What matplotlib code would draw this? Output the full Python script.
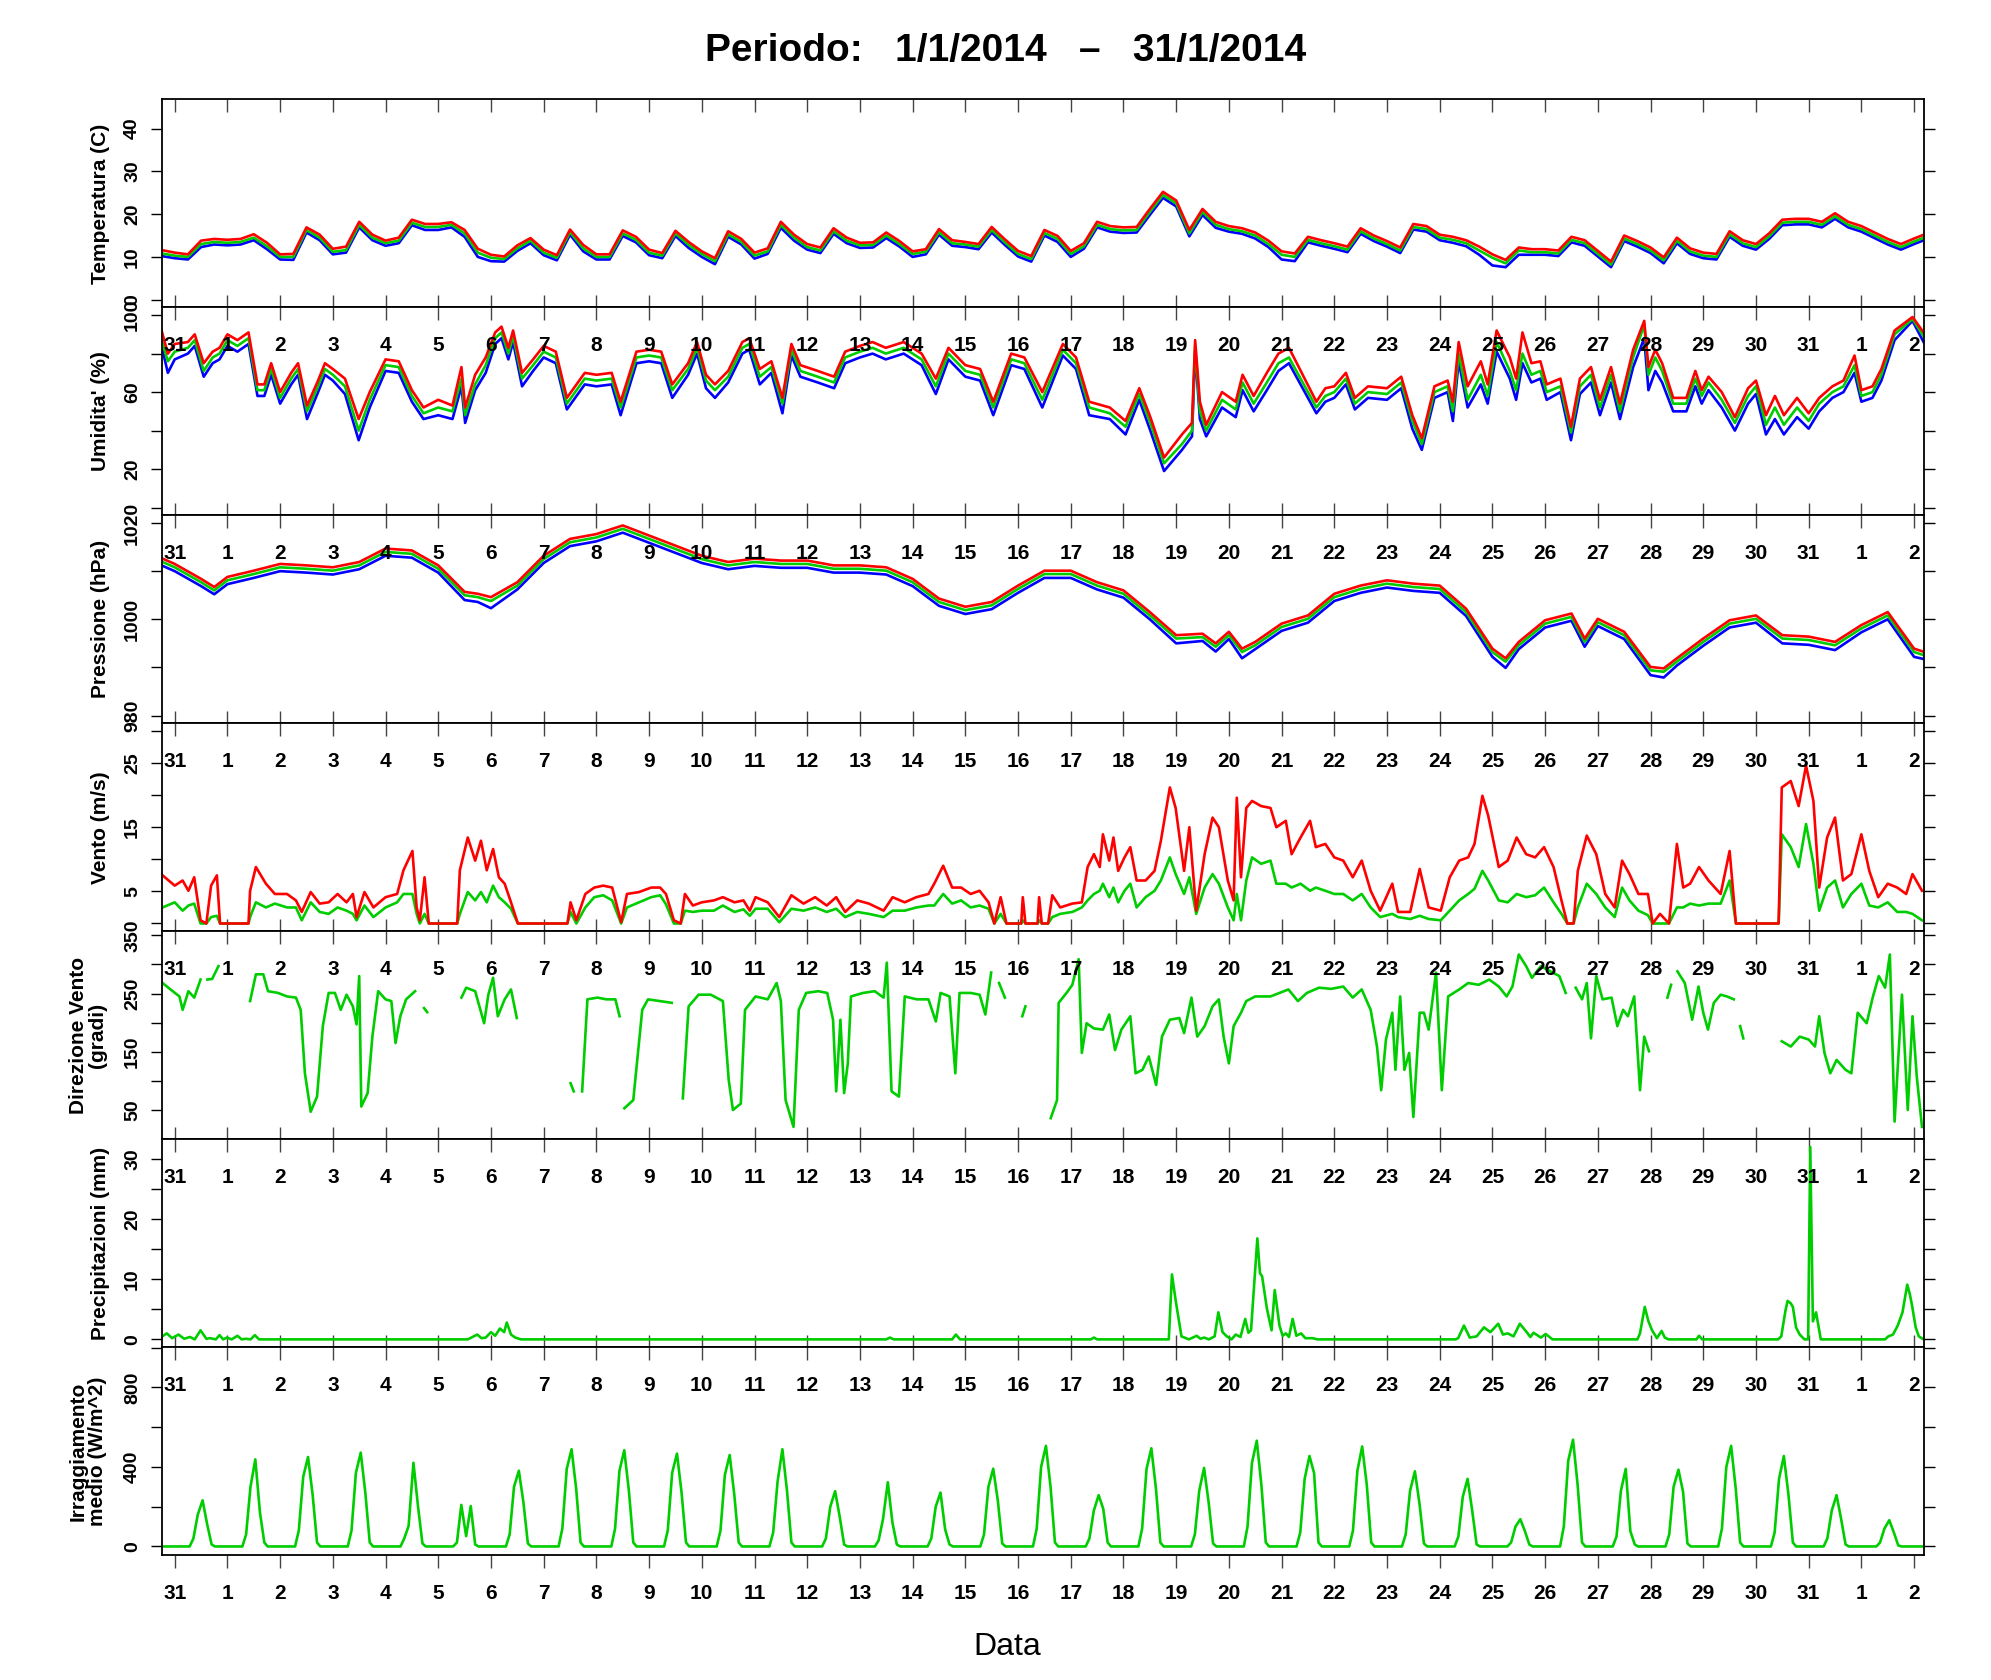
import numpy as np
import matplotlib.pyplot as plt
import matplotlib.transforms as mtransforms

plt.rcParams['font.family'] = ['Liberation Sans', 'DejaVu Sans']

RED, GREEN, BLUE = '#ff0000', '#00cd00', '#0000ff'

# asse x in giorni: 0 = 31/12/2013 ore 00
day_labels = ['31', '1', '2', '3', '4', '5', '6', '7', '8', '9', '10', '11', '12',
              '13', '14', '15', '16', '17', '18', '19', '20', '21', '22', '23', '24',
              '25', '26', '27', '28', '29', '30', '31', '1', '2']

# temperatura ogni 6 ore (da -0.25 a 33.25)
temp_g = [10.8,
          10.3, 10.0, 13.0, 13.5, 13.3, 13.5, 14.5, 12.5, 10.0, 10.0, 16.3, 14.5,
          11.2, 11.6, 17.5, 14.5, 13.2, 13.8, 18.0, 17.0, 17.0, 17.5, 15.5, 11.0,
          9.8, 9.5, 12.0, 13.8, 11.0, 9.8, 15.8, 12.0, 10.0, 10.0, 15.5, 14.0,
          11.0, 10.3, 15.5, 12.8, 10.7, 9.0, 15.3, 13.5, 10.3, 11.3, 17.5, 14.5,
          12.3, 11.5, 16.0, 13.8, 12.7, 12.8, 15.0, 13.0, 10.7, 11.2, 15.8, 13.2,
          12.9, 12.4, 16.3, 13.4, 10.7, 9.5, 15.6, 14.2, 10.7, 12.5, 17.5, 16.5,
          16.2, 16.3, 20.5, 24.5, 22.5, 15.5, 20.5, 17.5, 16.5, 16.0, 15.0, 13.0,
          10.5, 10.0, 14.0, 13.2, 12.5, 11.7, 16.0, 14.3, 13.0, 11.5, 17.0, 16.5,
          14.5, 14.0, 13.2, 11.5, 9.8, 8.5, 11.5, 11.1, 11.1, 10.8, 14.0, 13.2,
          10.7, 8.2, 14.3, 13.0, 11.5, 9.2, 13.8, 11.3, 10.3, 10.0, 15.3, 13.2,
          12.3, 14.8, 18.0, 18.2, 18.2, 17.5, 19.5, 17.5, 16.5, 15.0, 13.5, 12.3,
          13.6, 14.8]
temp_r = [11.6,
          11.0, 10.6, 13.8, 14.2, 14.0, 14.2, 15.3, 13.3, 10.6, 10.7, 16.9, 15.2,
          11.9, 12.4, 18.2, 15.2, 13.8, 14.5, 18.7, 17.7, 17.7, 18.1, 16.3, 11.9,
          10.5, 10.1, 12.7, 14.4, 11.7, 10.4, 16.4, 12.8, 10.6, 10.6, 16.2, 14.7,
          11.7, 10.9, 16.1, 13.5, 11.3, 9.7, 16.0, 14.2, 11.0, 12.0, 18.2, 15.2,
          13.0, 12.2, 16.7, 14.5, 13.3, 13.4, 15.7, 13.7, 11.3, 11.8, 16.5, 13.9,
          13.5, 13.0, 17.0, 14.1, 11.4, 10.2, 16.3, 14.9, 11.4, 13.2, 18.2, 17.2,
          16.9, 17.0, 21.2, 25.2, 23.2, 16.3, 21.2, 18.2, 17.2, 16.7, 15.7, 13.8,
          11.3, 10.8, 14.7, 13.9, 13.2, 12.4, 16.7, 15.0, 13.7, 12.2, 17.7, 17.2,
          15.2, 14.7, 13.9, 12.4, 10.6, 9.3, 12.2, 11.8, 11.8, 11.5, 14.7, 13.9,
          11.4, 8.9, 15.0, 13.7, 12.2, 9.9, 14.5, 12.0, 11.0, 10.7, 16.0, 13.9,
          13.0, 15.5, 18.7, 18.9, 18.9, 18.2, 20.2, 18.2, 17.2, 15.7, 14.2, 13.0,
          14.3, 15.5]
temp_b = [10.2,
          9.7, 9.4, 12.3, 12.9, 12.7, 12.9, 13.9, 11.8, 9.4, 9.3, 15.7, 13.9,
          10.6, 11.0, 16.9, 13.9, 12.6, 13.2, 17.4, 16.3, 16.3, 16.9, 14.7, 10.0,
          9.0, 8.9, 11.4, 13.2, 10.4, 9.2, 15.2, 11.3, 9.4, 9.4, 14.9, 13.4,
          10.4, 9.7, 14.9, 12.1, 10.0, 8.3, 14.7, 12.9, 9.6, 10.7, 16.8, 13.8,
          11.7, 10.9, 15.4, 13.2, 12.1, 12.2, 14.4, 12.4, 10.0, 10.6, 15.2, 12.6,
          12.3, 11.8, 15.7, 12.8, 10.1, 8.9, 15.0, 13.5, 10.0, 11.9, 16.9, 15.9,
          15.6, 15.7, 19.8, 23.8, 21.8, 14.8, 19.8, 16.8, 15.9, 15.4, 14.3, 12.3,
          9.4, 9.0, 13.4, 12.6, 11.9, 11.1, 15.4, 13.7, 12.4, 10.9, 16.4, 15.9,
          13.9, 13.3, 12.5, 10.5, 8.0, 7.6, 10.5, 10.5, 10.5, 10.2, 13.4, 12.6,
          10.1, 7.6, 13.7, 12.4, 10.9, 8.5, 13.2, 10.7, 9.7, 9.4, 14.7, 12.6,
          11.7, 14.2, 17.4, 17.6, 17.6, 16.9, 18.9, 16.9, 15.9, 14.4, 12.9, 11.7,
          13.0, 14.2]

# umidita'
hum_t = [-0.25, -0.13, 0, 0.25, 0.38, 0.55, 0.72, 0.85, 1.0, 1.19,
         1.4, 1.57, 1.7, 1.83, 2.0, 2.21, 2.34, 2.51, 2.72, 2.85,
         3.0, 3.23, 3.49, 3.7, 4.0, 4.25, 4.5, 4.72, 5.0, 5.27,
         5.44, 5.51, 5.7, 5.9, 6.08, 6.2, 6.33, 6.42, 6.59, 6.8,
         7.0, 7.23, 7.44, 7.78, 8.0, 8.29, 8.46, 8.76, 9.0, 9.23,
         9.44, 9.74, 9.91, 10.08, 10.25, 10.5, 10.77, 10.9, 11.1, 11.32,
         11.53, 11.7, 11.87, 12.2, 12.51, 12.72, 13.0, 13.24, 13.49, 13.83,
         14.17, 14.44, 14.68, 15.0, 15.28, 15.53, 15.87, 16.12, 16.46, 16.85,
         17.1, 17.35, 17.74, 18.04, 18.3, 18.51, 18.77, 19.11, 19.3, 19.36,
         19.45, 19.57, 19.87, 20.13, 20.26, 20.47, 20.72, 20.94, 21.14, 21.4,
         21.66, 21.83, 22.0, 22.22, 22.39, 22.64, 23.0, 23.27, 23.48, 23.66,
         23.9, 24.15, 24.25, 24.36, 24.53, 24.78, 24.91, 25.08, 25.33, 25.45,
         25.57, 25.74, 25.91, 26.03, 26.29, 26.49, 26.66, 26.87, 27.04, 27.25,
         27.42, 27.67, 27.88, 27.96, 28.09, 28.22, 28.43, 28.68, 28.85, 28.97,
         29.1, 29.35, 29.6, 29.85, 30.0, 30.19, 30.36, 30.53, 30.78, 31.0,
         31.2, 31.45, 31.66, 31.87, 32.0, 32.21, 32.38, 32.63, 32.97, 33.18]
hum_g = [87, 76, 81, 83, 87, 71, 78, 80, 87, 84,
         88, 61, 61, 72, 57, 67, 72, 50, 63, 72,
         69, 63, 40, 56, 74, 73, 58, 49, 52, 50,
         67, 48, 64, 74, 88, 91, 80, 89, 67, 74,
         81, 78, 54, 67, 66, 67, 52, 78, 79, 78,
         61, 72, 83, 66, 61, 68, 83, 85, 68, 73,
         54, 82, 71, 68, 65, 78, 81, 83, 80, 83,
         77, 63, 80, 71, 69, 52, 77, 75, 56, 82,
         75, 52, 49, 42, 59, 44, 23, 33, 40, 84,
         50, 40, 56, 51, 65, 54, 65, 75, 78, 65,
         52, 58, 60, 67, 54, 60, 59, 65, 45, 33,
         60, 63, 50, 80, 56, 69, 58, 86, 71, 61,
         80, 69, 71, 60, 63, 39, 63, 69, 52, 69,
         50, 78, 95, 69, 78, 71, 54, 54, 67, 58,
         65, 56, 44, 58, 63, 43, 52, 43, 52, 45,
         54, 60, 63, 74, 58, 60, 69, 90, 98, 89]
hum_r = [92, 80, 85, 86, 90, 75, 81, 83, 90, 87,
         91, 64, 64, 75, 60, 70, 75, 53, 66, 75,
         72, 67, 46, 60, 77, 76, 61, 52, 56, 53,
         73, 52, 69, 78, 91, 94, 83, 92, 70, 77,
         84, 81, 57, 70, 69, 70, 55, 81, 82, 81,
         64, 75, 86, 69, 64, 71, 86, 88, 72, 76,
         57, 85, 74, 71, 68, 81, 84, 86, 83, 86,
         80, 67, 83, 74, 72, 55, 80, 78, 60, 85,
         78, 55, 52, 45, 62, 47, 26, 38, 44, 87,
         55, 43, 60, 55, 69, 58, 70, 80, 83, 69,
         55, 62, 63, 70, 57, 63, 62, 68, 48, 36,
         63, 66, 55, 86, 63, 76, 64, 92, 78, 67,
         91, 75, 76, 64, 67, 42, 67, 73, 56, 73,
         54, 82, 97, 73, 82, 75, 57, 57, 71, 61,
         68, 60, 47, 62, 66, 48, 58, 48, 57, 49,
         57, 63, 66, 79, 61, 63, 72, 92, 99, 91]
hum_b = [84, 70, 77, 80, 84, 68, 75, 77, 84, 81,
         85, 58, 58, 69, 54, 64, 69, 46, 60, 69,
         66, 59, 35, 52, 71, 70, 55, 46, 48, 46,
         63, 44, 61, 70, 85, 88, 77, 86, 63, 71,
         78, 75, 51, 64, 63, 64, 48, 75, 76, 75,
         57, 69, 80, 62, 57, 65, 80, 82, 64, 70,
         49, 79, 68, 65, 62, 75, 78, 80, 77, 80,
         74, 59, 77, 68, 66, 48, 74, 72, 52, 79,
         72, 48, 46, 38, 56, 40, 19, 30, 37, 81,
         46, 37, 52, 47, 61, 50, 61, 71, 75, 62,
         49, 55, 57, 64, 51, 57, 56, 62, 41, 30,
         57, 60, 45, 76, 52, 64, 54, 81, 67, 56,
         75, 65, 67, 56, 60, 35, 59, 65, 48, 65,
         46, 73, 88, 61, 71, 65, 50, 50, 63, 54,
         61, 52, 40, 54, 59, 38, 46, 38, 47, 41,
         50, 57, 60, 70, 55, 57, 66, 87, 97, 86]

# pressione
press_t = [-0.25, 0, 0.5, 0.75, 1, 1.5, 2, 2.5, 3, 3.5,
           4, 4.5, 5, 5.5, 5.75, 6, 6.5, 7, 7.5, 8,
           8.5, 9, 9.5, 10, 10.5, 11, 11.5, 12, 12.5, 13,
           13.5, 14, 14.5, 15, 15.5, 16, 16.5, 17, 17.5, 18,
           18.5, 19, 19.5, 19.75, 20, 20.25, 20.5, 21, 21.5, 22,
           22.5, 23, 23.5, 24, 24.5, 25, 25.25, 25.5, 26, 26.5,
           26.75, 27, 27.5, 28, 28.25, 28.5, 29, 29.5, 30, 30.5,
           31, 31.5, 32, 32.5, 33, 33.2]
press_g = [1012, 1010.8, 1007.7, 1006, 1008.1, 1009.4, 1010.8, 1010.5, 1010.1, 1011.2,
           1014, 1013.6, 1010.5, 1005, 1004.6, 1003.8, 1007, 1012.5, 1016, 1017,
           1018.8, 1016.7, 1014.6, 1012.5, 1011.2, 1011.9, 1011.5, 1011.5, 1010.5, 1010.5,
           1010.1, 1007.7, 1003.6, 1001.9, 1002.9, 1006.3, 1009.4, 1009.4, 1007, 1005.3,
           1000.8, 996, 996.3, 994.3, 996.7, 993.2, 994.6, 998.4, 1000.1, 1004.6,
           1006.3, 1007.4, 1006.7, 1006.3, 1001.5, 993.2, 991.2, 994.6, 999.1, 1000.5,
           995.3, 999.4, 996.7, 989.4, 989.1, 991.2, 995.3, 999.1, 1000.1, 996,
           995.7, 994.6, 998.1, 1000.8, 993.2, 992.5]
press_r = [1012.7, 1011.5, 1008.4, 1006.7, 1008.8, 1010.1, 1011.5, 1011.2, 1010.8, 1011.9,
           1014.7, 1014.3, 1011.2, 1005.7, 1005.3, 1004.6, 1007.7, 1013.2, 1016.7, 1017.7,
           1019.5, 1017.4, 1015.3, 1013.2, 1011.9, 1012.6, 1012.2, 1012.2, 1011.2, 1011.2,
           1010.8, 1008.4, 1004.3, 1002.6, 1003.6, 1007.0, 1010.1, 1010.1, 1007.7, 1006.0,
           1001.5, 996.7, 997.0, 995.0, 997.4, 993.9, 995.3, 999.1, 1000.8, 1005.3,
           1007.0, 1008.1, 1007.4, 1007.0, 1002.2, 993.9, 991.9, 995.3, 999.8, 1001.2,
           996.0, 1000.1, 997.4, 990.1, 989.8, 991.9, 996.0, 999.8, 1000.8, 996.7,
           996.4, 995.3, 998.8, 1001.5, 993.9, 993.2]
press_b = [1011.2, 1010.0, 1006.9, 1005.2, 1007.3, 1008.6, 1010.0, 1009.7, 1009.3, 1010.4,
           1013.2, 1012.8, 1009.7, 1004.0, 1003.6, 1002.3, 1006.2, 1011.7, 1015.2, 1016.2,
           1018.0, 1015.9, 1013.8, 1011.7, 1010.4, 1011.1, 1010.7, 1010.7, 1009.7, 1009.7,
           1009.3, 1006.9, 1002.8, 1001.1, 1002.1, 1005.5, 1008.6, 1008.6, 1006.2, 1004.5,
           1000.0, 995.0, 995.5, 993.3, 995.9, 991.9, 993.8, 997.6, 999.3, 1003.8,
           1005.5, 1006.6, 1005.9, 1005.5, 1000.7, 992.2, 989.9, 993.8, 998.3, 999.7,
           994.3, 998.6, 995.9, 988.4, 987.9, 990.4, 994.5, 998.3, 999.3, 995.0,
           994.7, 993.6, 997.3, 1000.0, 992.2, 991.7]

# vento: raffica (rosso) e media (verde)
wind_t = [-0.23, 0.0, 0.15, 0.26, 0.37, 0.49, 0.6, 0.69, 0.8, 0.86,
          1.4, 1.43, 1.54, 1.73, 1.9, 2.13, 2.3, 2.41, 2.58, 2.75,
          2.92, 3.09, 3.26, 3.38, 3.45, 3.6, 3.77, 4.0, 4.22, 4.34,
          4.51, 4.59, 4.65, 4.74, 4.82, 5.36, 5.41, 5.56, 5.7, 5.81,
          5.92, 6.04, 6.15, 6.26, 6.38, 6.51, 7.45, 7.51, 7.62, 7.79,
          7.96, 8.13, 8.3, 8.47, 8.58, 8.81, 9.04, 9.21, 9.32, 9.47,
          9.6, 9.68, 9.83, 10.0, 10.23, 10.4, 10.62, 10.79, 10.91, 11.02,
          11.25, 11.47, 11.7, 11.93, 12.15, 12.37, 12.55, 12.72, 12.95, 13.17,
          13.45, 13.62, 13.85, 14.07, 14.3, 14.41, 14.58, 14.75, 14.92, 15.1,
          15.27, 15.44, 15.55, 15.67, 15.78, 16.06, 16.09, 16.14, 16.37, 16.4,
          16.45, 16.57, 16.65, 16.8, 17.03, 17.21, 17.32, 17.44, 17.55, 17.61,
          17.73, 17.81, 17.9, 18.02, 18.13, 18.25, 18.42, 18.59, 18.71, 18.88,
          18.99, 19.15, 19.25, 19.38, 19.54, 19.69, 19.81, 19.98, 20.09, 20.15,
          20.23, 20.33, 20.44, 20.61, 20.79, 20.9, 21.08, 21.19, 21.36, 21.54,
          21.65, 21.83, 22.0, 22.17, 22.35, 22.52, 22.69, 22.87, 23.1, 23.21,
          23.44, 23.62, 23.79, 24.02, 24.19, 24.37, 24.54, 24.66, 24.81, 24.92,
          25.12, 25.29, 25.46, 25.64, 25.81, 25.98, 26.16, 26.31, 26.42, 26.54,
          26.62, 26.79, 26.97, 27.14, 27.32, 27.46, 27.6, 27.77, 27.95, 28.04,
          28.18, 28.35, 28.5, 28.62, 28.75, 28.92, 29.1, 29.33, 29.5, 29.62,
          30.43, 30.49, 30.66, 30.81, 30.95, 31.09, 31.2, 31.35, 31.5, 31.65,
          31.81, 32.0, 32.15, 32.32, 32.5, 32.68, 32.85, 32.97, 33.15]
wind_r = [7.5, 5.9, 6.7, 5.1, 7.2, 0.5, 0, 5.9, 7.5, 0,
          0, 5.1, 8.8, 6.2, 4.6, 4.6, 3.6, 1.8, 4.9, 3.1,
          3.3, 4.6, 3.3, 4.6, 1.0, 4.9, 2.5, 4.1, 4.6, 8.3,
          11.3, 2.5, 0.5, 7.2, 0, 0, 8.3, 13.4, 9.8, 12.9,
          8.3, 11.6, 7.2, 6.2, 3.3, 0, 0, 3.3, 0.5, 4.6,
          5.6, 5.9, 5.6, 0.2, 4.6, 4.9, 5.6, 5.6, 4.6, 0.5,
          0, 4.6, 2.8, 3.3, 3.6, 4.1, 3.3, 3.6, 2.0, 4.1,
          3.3, 1.0, 4.4, 3.1, 4.1, 2.8, 4.1, 1.8, 3.6, 3.1,
          2.0, 4.1, 3.3, 4.1, 4.6, 6.2, 9.0, 5.6, 5.6, 4.6,
          5.1, 3.3, 0, 4.1, 0, 0, 4.1, 0, 0, 4.1,
          0, 0, 4.4, 2.5, 3.1, 3.3, 8.8, 10.8, 8.8, 13.9,
          9.8, 13.4, 8.2, 10.3, 11.9, 6.7, 6.7, 8.2, 12.9, 21.2,
          18.0, 8.2, 15.0, 2.0, 10.8, 16.5, 15.0, 6.7, 3.6, 19.6,
          7.2, 18.0, 19.1, 18.3, 18.0, 15.0, 16.0, 10.8, 13.4, 16.0,
          11.9, 12.4, 10.3, 9.8, 7.2, 9.8, 5.1, 2.0, 6.2, 1.8,
          1.8, 8.5, 2.5, 2.0, 7.2, 9.8, 10.3, 12.4, 19.9, 16.8,
          8.8, 9.8, 13.4, 10.8, 10.3, 11.9, 8.8, 3.6, 0, 0,
          8.2, 13.7, 10.8, 4.6, 2.5, 9.8, 7.7, 4.6, 4.6, 0,
          1.5, 0, 12.4, 5.6, 6.2, 8.8, 6.7, 4.6, 11.3, 0,
          0, 21.2, 22.2, 18.3, 24.6, 19.1, 5.6, 13.4, 16.5, 6.7,
          7.7, 13.9, 8.2, 4.1, 6.2, 5.6, 4.6, 7.7, 5.1]
wind_g = [2.5, 3.3, 2.0, 2.8, 3.1, 0, 0, 1.0, 1.2, 0,
          0, 1.0, 3.3, 2.5, 3.1, 2.5, 2.5, 0.5, 3.3, 1.8,
          1.5, 2.5, 2.0, 1.5, 0.5, 2.8, 1.0, 2.5, 3.3, 4.6,
          4.6, 1.5, 0, 1.5, 0, 0, 1.5, 4.9, 3.6, 4.9,
          3.3, 5.9, 4.1, 3.3, 2.3, 0, 0, 1.8, 0, 2.5,
          4.1, 4.4, 3.6, 0, 2.5, 3.3, 4.1, 4.4, 3.0, 0,
          0, 2.0, 1.8, 2.0, 2.0, 2.8, 1.8, 2.2, 1.2, 2.3,
          2.3, 0.2, 2.3, 2.0, 2.5, 1.8, 2.3, 1.0, 1.8, 1.5,
          1.0, 2.0, 2.0, 2.5, 2.8, 2.8, 4.6, 3.1, 3.6, 2.5,
          2.8, 2.3, 0, 1.5, 0, 0, 0.5, 0, 0, 0.5,
          0, 0, 1.0, 1.5, 1.8, 2.5, 3.6, 4.6, 5.1, 6.2,
          4.1, 5.6, 3.3, 5.1, 6.2, 2.5, 4.1, 5.1, 6.7, 10.3,
          7.7, 4.6, 7.2, 1.5, 5.6, 7.7, 6.2, 2.5, 0.5, 4.6,
          0.5, 6.7, 10.3, 9.3, 9.8, 6.2, 6.2, 5.6, 6.2, 5.1,
          5.6, 5.1, 4.6, 4.6, 3.6, 4.6, 2.5, 1.0, 1.5, 1.0,
          0.7, 1.2, 0.7, 0.5, 2.0, 3.6, 4.6, 5.4, 8.2, 6.7,
          3.6, 3.3, 4.6, 4.1, 4.4, 5.6, 3.3, 1.5, 0, 0,
          2.5, 6.2, 4.6, 2.5, 1.0, 5.6, 3.6, 2.0, 1.3, 0,
          0, 0, 2.5, 2.5, 3.1, 2.8, 3.1, 3.1, 6.7, 0,
          0, 13.9, 11.9, 8.8, 15.5, 9.3, 2.0, 5.6, 6.7, 2.5,
          4.6, 6.2, 2.8, 2.5, 3.3, 1.8, 1.8, 1.5, 0.5]

# direzione vento (nan = dato mancante)
nan = np.nan
dir_t = [-0.23, -0.08, 0.09, 0.15, 0.26, 0.37, 0.49, 0.55, 0.62, 0.71, 0.83, 1.0,
         1.43, 1.54, 1.68, 1.77, 1.96, 2.13, 2.3, 2.39, 2.47, 2.58, 2.7, 2.81, 2.92,
         3.04, 3.15, 3.26, 3.38, 3.45, 3.5, 3.54, 3.66, 3.75, 3.86, 4.0, 4.11, 4.19,
         4.28, 4.39, 4.56, 4.65, 4.73, 4.79, 5.0, 5.44, 5.53, 5.7, 5.87, 5.95, 6.04,
         6.13, 6.26, 6.38, 6.49, 7.0, 7.51, 7.57, 7.65, 7.73, 7.83, 8.02, 8.19, 8.36,
         8.44, 8.48, 8.53, 8.7, 8.87, 8.98, 9.21, 9.43, 9.5, 9.64, 9.75, 9.94, 10.17,
         10.4, 10.51, 10.59, 10.74, 10.82, 11.02, 11.25, 11.42, 11.5, 11.59, 11.74,
         11.84, 11.98, 12.21, 12.38, 12.49, 12.55, 12.63, 12.7, 12.77, 12.83, 13.06,
         13.28, 13.45, 13.51, 13.6, 13.74, 13.85, 14.08, 14.3, 14.44, 14.53, 14.7,
         14.81, 14.89, 15.1, 15.27, 15.38, 15.49, 15.55, 15.64, 15.75, 15.9, 16.08,
         16.14, 16.4, 16.62, 16.74, 16.77, 16.92, 17.03, 17.15, 17.21, 17.3, 17.44,
         17.61, 17.73, 17.84, 17.96, 18.13, 18.23, 18.36, 18.48, 18.62, 18.73, 18.88,
         19.06, 19.15, 19.29, 19.4, 19.54, 19.69, 19.81, 19.9, 20.0, 20.09, 20.23,
         20.33, 20.5, 20.79, 21.13, 21.31, 21.48, 21.71, 21.94, 22.17, 22.35, 22.52,
         22.69, 22.81, 22.89, 22.98, 23.1, 23.16, 23.25, 23.33, 23.42, 23.5, 23.62,
         23.7, 23.79, 23.93, 24.04, 24.16, 24.37, 24.54, 24.74, 24.94, 25.12, 25.27,
         25.38, 25.5, 25.64, 25.75, 25.92, 26.1, 26.27, 26.39, 26.5, 26.58, 26.7,
         26.79, 26.87, 26.97, 27.09, 27.26, 27.37, 27.48, 27.57, 27.69, 27.8, 27.88,
         27.97, 28.1, 28.32, 28.39, 28.45, 28.51, 28.65, 28.79, 28.91, 29.0, 29.09,
         29.2, 29.33, 29.45, 29.58, 29.65, 29.7, 29.76, 30.0, 30.49, 30.66, 30.83,
         31.0, 31.12, 31.2, 31.3, 31.41, 31.53, 31.7, 31.81, 31.93, 32.1, 32.22,
         32.33, 32.45, 32.54, 32.63, 32.77, 32.88, 32.97, 33.05, 33.15]
dir_v = [268, 257, 245, 222, 254, 243, 274, nan, 274, 275, 297, nan,
         237, 283, 283, 254, 251, 245, 243, 222, 113, 47, 73, 194, 251,
         251, 222, 248, 228, 197, 280, 56, 79, 176, 254, 240, 237, 165,
         211, 240, 254, nan, 225, 218, nan, 243, 260, 254, 199, 248, 277,
         211, 240, 257, 208, nan, 96, 82, nan, 82, 240, 243, 240, 240,
         211, nan, 53, 67, 222, 240, 237, 234, nan, 70, 228, 248, 248,
         237, 102, 50, 61, 222, 245, 240, 268, 237, 67, 21,
         222, 251, 254, 251, 205, 82, 205, 79, 130, 245, 251,
         254, 243, 303, 82, 73, 245, 240, 240, 202, 251, 245,
         113, 251, 251, 248, 214, 286, nan, 268, 243, nan, 211,
         228, nan, 36, 67, 234, 251, 265, 309, 148, 199, 190,
         188, 214, 153, 188, 211, 113, 119, 142, 93, 176, 205,
         208, 182, 243, 176, 194, 228, 240, 176, 130, 194, 217,
         237, 245, 245, 257, 237, 251, 260, 258, 262, 243, 257,
         222, 159, 84, 171, 217, 119, 245, 119, 148, 38, 217,
         217, 188, 286, 84, 245, 257, 268, 265, 274, 262, 245,
         262, 317, 297, 277, 297, 288, 280, 251, nan, 260, 240,
         268, 173, 280, 240, 243, 194, 222, 211, 245, 84, 176,
         151, nan, 243, 265, nan, 288, 268, 205, 262, 217, 188,
         234, 248, 245, 240, nan, 194, 173, nan, 168, 159, 176,
         171, 159, 211, 148, 113, 136, 119, 113, 217, 199, 245,
         280, 260, 317, 30, 248, 50, 211, 108, 21]

# precipitazioni
prec_t = [-0.27, -0.15, -0.05, 0.07, 0.18, 0.29, 0.38, 0.49, 0.6, 0.67, 0.78, 0.85,
          0.92, 0.99, 1.08, 1.19, 1.27, 1.35, 1.44, 1.52, 1.6,
          5.56, 5.74, 5.82, 5.9, 6.0, 6.08, 6.17, 6.25, 6.3, 6.38, 6.46, 6.57,
          13.5, 13.57, 13.64, 14.75, 14.82, 14.9, 17.38, 17.44, 17.5,
          18.86, 18.92, 18.99, 19.1, 19.24, 19.39, 19.46, 19.53, 19.62, 19.73, 19.8,
          19.88, 19.96, 20.05, 20.13, 20.22, 20.31, 20.37, 20.42, 20.54, 20.59, 20.63,
          20.72, 20.81, 20.87, 20.96, 21.02, 21.08, 21.14, 21.21, 21.28, 21.37, 21.45,
          21.59, 21.68,
          24.3, 24.35, 24.46, 24.57, 24.7, 24.84, 24.96, 25.11, 25.2, 25.29, 25.4,
          25.52, 25.65, 25.72, 25.78, 25.92, 26.01, 26.14,
          27.75, 27.8, 27.89, 27.96, 28.03, 28.12, 28.21, 28.27, 28.34,
          28.87, 28.92, 28.98,
          30.42, 30.48, 30.56, 30.6, 30.66, 30.7, 30.76, 30.83, 30.92, 30.99, 31.03,
          31.08, 31.14, 31.23,
          32.45, 32.51, 32.6, 32.69, 32.78, 32.87, 32.92, 32.96, 33.03, 33.09, 33.18]
prec_v = [0.3, 1.0, 0.2, 0.8, 0.1, 0.4, 0.0, 1.5, 0.1, 0.2, 0.0, 0.7,
          0.0, 0.3, 0.0, 0.6, 0.0, 0.1, 0.0, 0.7, 0.0,
          0.0, 0.8, 0.2, 0.3, 1.2, 0.6, 1.8, 1.2, 2.8, 0.8, 0.3, 0.0,
          0.0, 0.3, 0.0, 0.0, 0.8, 0.0, 0.0, 0.3, 0.0,
          0.0, 10.8, 6.5, 0.5, 0.0, 0.6, 0.1, 0.3, 0.0, 0.5, 4.5,
          1.2, 0.5, 0.0, 0.8, 0.4, 3.4, 1.1, 1.5, 16.8, 11.0, 10.5,
          5.2, 1.5, 8.2, 2.3, 0.6, 1.0, 0.4, 3.4, 0.6, 1.0, 0.2,
          0.2, 0.0,
          0.0, 0.2, 2.3, 0.3, 0.5, 2.0, 1.2, 2.6, 0.8, 1.0, 0.5,
          2.6, 1.2, 0.4, 1.1, 0.3, 0.9, 0.0,
          0.0, 1.0, 5.4, 3.0, 1.5, 0.2, 1.4, 0.3, 0.0,
          0.0, 0.6, 0.0,
          0.0, 0.5, 4.8, 6.4, 6.0, 5.4, 2.0, 0.8, 0.0, 0.0, 32.0,
          3.0, 4.5, 0.0,
          0.0, 0.5, 0.8, 2.3, 4.5, 9.1, 7.5, 5.7, 2.0, 0.5, 0.0]

# irraggiamento: valori diurni alle ore 8.5, 10.5, 12.7, 14.8, 16.8 per ogni giorno (31/12 .. 1/2)
irr_hours = [8.5, 10.5, 12.7, 14.8, 16.8]
irr_vals = [[40, 160, 232, 110, 10], [60, 300, 438, 172, 20], [80, 350, 450, 260, 20],
            [80, 370, 472, 270, 20], [40, 103, 421, 200, 15], [20, 209, 52, 203, 10],
            [60, 300, 381, 220, 15], [90, 390, 489, 290, 20], [90, 380, 484, 280, 20],
            [80, 370, 467, 270, 20], [80, 360, 460, 260, 20], [70, 326, 489, 280, 20],
            [40, 200, 278, 150, 10], [30, 137, 323, 120, 10], [40, 200, 271, 86, 10],
            [60, 300, 391, 230, 15], [90, 400, 506, 300, 20], [40, 180, 258, 189, 20],
            [90, 390, 494, 290, 20], [60, 280, 395, 220, 15], [100, 420, 532, 310, 20],
            [70, 340, 455, 369, 20], [80, 380, 503, 309, 20], [60, 280, 378, 215, 15],
            [50, 250, 340, 180, 10], [20, 100, 137, 77, 10], [100, 430, 537, 310, 20],
            [50, 280, 390, 77, 10], [60, 300, 386, 275, 15], [90, 400, 506, 290, 20],
            [70, 340, 455, 260, 20], [40, 180, 258, 137, 10], [20, 90, 132, 70, 5]]

irr_t, irr_v = [-0.25], [0.0]
for d, vals in enumerate(irr_vals):
    irr_t += [d + 6.8 / 24] + [d + h / 24 for h in irr_hours] + [d + 18.3 / 24]
    irr_v += [0.0] + vals + [0.0]
irr_t.append(33.2)
irr_v.append(0.0)

temp_t = np.arange(len(temp_g)) * 0.25 - 0.25

# ---------------------------------------------------------------------------
fig, axes = plt.subplots(7, 1, figsize=(19.91, 16.8), dpi=100, sharex=True,
                         gridspec_kw={'hspace': 0})
fig.subplots_adjust(left=0.0814, right=0.9664, top=0.9408, bottom=0.0744)

LW = 1.9
ax = axes[0]
ax.plot(temp_t, temp_b, color=BLUE, lw=LW)
ax.plot(temp_t, temp_g, color=GREEN, lw=LW)
ax.plot(temp_t, temp_r, color=RED, lw=LW)

ax = axes[1]
ax.plot(hum_t, hum_b, color=BLUE, lw=LW)
ax.plot(hum_t, hum_g, color=GREEN, lw=LW)
ax.plot(hum_t, hum_r, color=RED, lw=LW)

ax = axes[2]
ax.plot(press_t, press_b, color=BLUE, lw=LW)
ax.plot(press_t, press_g, color=GREEN, lw=LW)
ax.plot(press_t, press_r, color=RED, lw=LW)

ax = axes[3]
ax.plot(wind_t, wind_g, color=GREEN, lw=LW)
ax.plot(wind_t, wind_r, color=RED, lw=LW)

axes[4].plot(dir_t, dir_v, color=GREEN, lw=LW)
axes[5].plot(prec_t, prec_v, color=GREEN, lw=LW)
axes[6].plot(irr_t, irr_v, color=GREEN, lw=LW)

ylabels = ['Temperatura (C)', "Umidita' (%)", 'Pressione (hPa)', 'Vento (m/s)',
           'Direzione Vento\n(gradi)', 'Precipitazioni (mm)',
           'Irraggiamento\nmedio (W/m^2)']
ylims = [(-1.8, 46.8), (-4, 104), (978.4, 1021.6), (-1.2, 31.2), (0, 357),
         (-1.28, 33.3), (-43, 1003)]
yticks = [[0, 10, 20, 30, 40], [0, 20, 40, 60, 80, 100],
          [980, 990, 1000, 1010, 1020], [0, 5, 10, 15, 20, 25, 30],
          [50, 100, 150, 200, 250, 300, 350], [0, 5, 10, 15, 20, 25, 30],
          [0, 200, 400, 600, 800, 1000]]
ytlabels = [['0', '10', '20', '30', '40'], ['', '20', '', '60', '', '100'],
            ['980', '', '1000', '', '1020'], ['', '5', '', '15', '', '25', ''],
            ['50', '', '150', '', '250', '', '350'], ['0', '', '10', '', '20', '', '30'],
            ['0', '', '400', '', '800', '']]

days = np.arange(len(day_labels))
for i, ax in enumerate(axes):
    ax.set_xlim(-0.24, 33.19)
    ax.set_ylim(*ylims[i])
    for sp in ax.spines.values():
        sp.set_linewidth(1.3)
    ax.set_xticks(days)
    ax.tick_params(axis='x', direction='in', top=True, bottom=(i < 6), length=9,
                   width=1.0, labelbottom=False, color='#444444')
    ax.set_yticks(yticks[i])
    ax.set_yticklabels(ytlabels[i], fontsize=14, fontweight='bold', rotation=90,
                       va='center')
    ax.tick_params(axis='y', direction='out', left=True, right=True, length=8,
                   width=1.0, pad=7, labelright=False)
    two = '\n' in ylabels[i]
    ax.text(-0.042 if two else -0.035, 0.5, ylabels[i], transform=ax.transAxes,
            rotation=90, ha='center', va='center', fontsize=15, fontweight='bold',
            linespacing=1.05)
    if i > 0:
        tr = mtransforms.blended_transform_factory(ax.transData, ax.transAxes)
        for d, lab in zip(days, day_labels):
            ax.text(d, 0.815, lab, transform=tr, ha='center', va='center',
                    fontsize=15, fontweight='bold', clip_on=False)

# asse inferiore con le date
sec = axes[6].secondary_xaxis('bottom')
sec.set_xticks(days)
sec.set_xticklabels(day_labels, fontsize=15, fontweight='bold')
sec.tick_params(direction='out', length=9, width=1.0, pad=12, color='#444444')
sec.spines['bottom'].set_visible(False)

fig.text(0.506, 0.0196, 'Data', fontsize=23, ha='center', va='center')
fig.text(0.505, 0.9696, 'Periodo:   1/1/2014   \u2013   31/1/2014', fontsize=28,
         fontweight='bold', ha='center', va='center')

fig.savefig('out.png', dpi=100)
